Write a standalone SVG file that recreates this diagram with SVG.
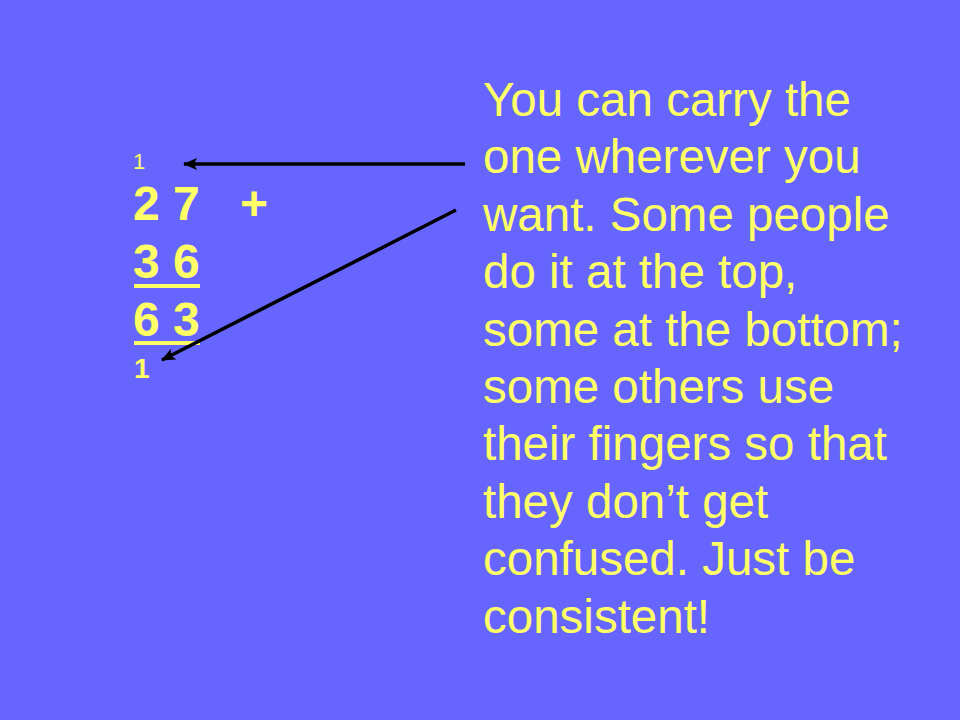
<svg xmlns="http://www.w3.org/2000/svg" width="960" height="720" viewBox="0 0 960 720">
<defs>
<style>
.t{font-family:"Liberation Sans",Arial,sans-serif;fill:#FFFF66}
.big{font-size:47.5px}
.num{font-size:48px;font-weight:bold}
.ln{stroke:#000;stroke-width:3.5;fill:none}
</style>
<marker id="ah" markerWidth="14" markerHeight="12" refX="13" refY="6" orient="auto" markerUnits="userSpaceOnUse" viewBox="0 0 14 12">
<path d="M0,0 L14,6 L0,12 L3,6 Z" fill="#000"/>
</marker>
</defs>
<rect width="960" height="720" fill="#6666FF"/>
<g id="sum">
<text class="t" x="133" y="169" font-size="22">1</text>
<text class="t num" x="133" y="220">2 7</text>
<text class="t num" x="240" y="220">+</text>
<text class="t num" x="133" y="278">3 6</text>
<rect x="134" y="284" width="66" height="4" fill="#FFFF66"/>
<text class="t num" x="133" y="336">6 3</text>
<rect x="134" y="341" width="66" height="4" fill="#FFFF66"/>
<text class="t" x="134" y="378" font-size="28" font-weight="bold">1</text>
</g>
<g id="note">
<text class="t big" x="483" y="116">You can carry the</text>
<text class="t big" x="483" y="173.4">one wherever you</text>
<text class="t big" x="483" y="230.8">want. Some people</text>
<text class="t big" x="483" y="288.2">do it at the top,</text>
<text class="t big" x="483" y="345.6">some at the bottom;</text>
<text class="t big" x="483" y="403">some others use</text>
<text class="t big" x="483" y="460.4">their fingers so that</text>
<text class="t big" x="483" y="517.8">they don’t get</text>
<text class="t big" x="483" y="575.2">confused. Just be</text>
<text class="t big" x="483" y="632.6">consistent!</text>
</g>
<g id="connectors">
<line class="ln" x1="465" y1="164" x2="184" y2="164" marker-end="url(#ah)"/>
<line class="ln" x1="456" y1="210" x2="162" y2="360" marker-end="url(#ah)"/>
</g>
</svg>
